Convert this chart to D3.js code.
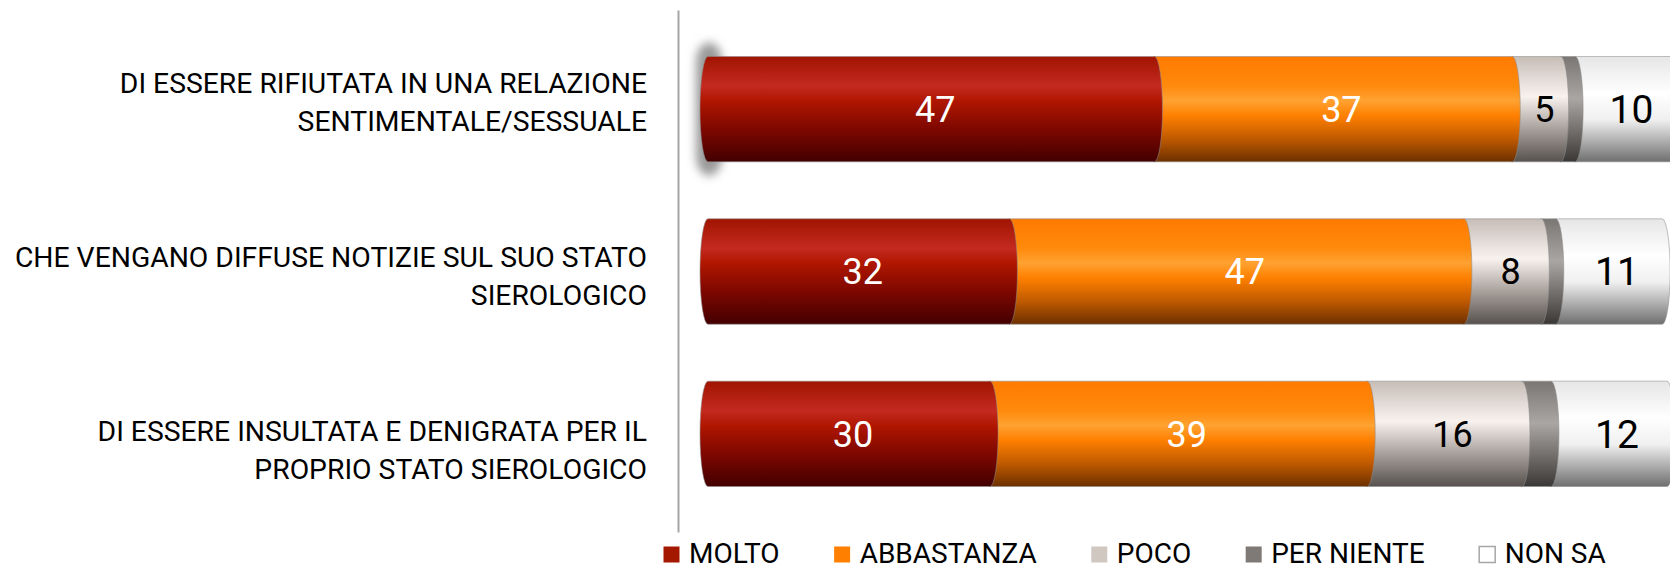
<!DOCTYPE html>
<html>
<head>
<meta charset="utf-8">
<script src="https://cdn.jsdelivr.net/npm/d3@7"></script>
<style>
  body { margin: 0; background: #fff; }
  svg { display: block; font-family: Roboto, "Noto Sans", sans-serif; }
</style>
</head>
<body>
<div id="chart"></div>
<script>
// categories (already split in the two lines shown on the axis)
var categories = [
  ["DI ESSERE RIFIUTATA IN UNA RELAZIONE", "SENTIMENTALE/SESSUALE"],
  ["CHE VENGANO DIFFUSE NOTIZIE SUL SUO STATO", "SIEROLOGICO"],
  ["DI ESSERE INSULTATA E DENIGRATA PER IL", "PROPRIO STATO SIEROLOGICO"]
];
var seriesNames = ["MOLTO", "ABBASTANZA", "POCO", "PER NIENTE", "NON SA"];

var molto      = [47, 32, 30];
var abbastanza = [37, 47, 39];
var poco       = [5, 8, 16];
var perNiente  = [1.5, 1.5, 3];
var nonSa      = [10, 11, 12];

var width  = 1670;
var height = 571;

var rows = categories.map(function(c, i) {
  return {
    idx: i,
    "MOLTO": molto[i],
    "ABBASTANZA": abbastanza[i],
    "POCO": poco[i],
    "PER NIENTE": perNiente[i],
    "NON SA": nonSa[i]
  };
});
var stacked = d3.stack().keys(seriesNames)(rows);

// colour ramps for the cylinder look (top -> bottom)
var ramps = {
  "MOLTO":      [[0, "#a01400"], [0.28, "#c42a20"], [0.42, "#b01600"], [0.7, "#7c0700"], [1, "#420000"]],
  "ABBASTANZA": [[0, "#ff7a00"], [0.28, "#ff8a0c"], [0.42, "#ffa232"], [0.56, "#ff8000"], [0.78, "#c05a00"], [1, "#6c3000"]],
  "POCO":       [[0, "#c7bdb7"], [0.38, "#f8f2ef"], [0.7, "#a59d98"], [1, "#57524f"]],
  "PER NIENTE": [[0, "#7a7674"], [0.4, "#aaa6a4"], [0.75, "#6a6664"], [1, "#3a3836"]],
  "NON SA":     [[0, "#e6e6e6"], [0.35, "#ffffff"], [0.6, "#f0f0f0"], [1, "#6f6f6f"]]
};
var legendColors = {
  "MOLTO": "#a51800", "ABBASTANZA": "#ff8000", "POCO": "#d0c7c1",
  "PER NIENTE": "#807a77", "NON SA": "#ffffff"
};
var labelColors = {
  "MOLTO": "#fff", "ABBASTANZA": "#fff", "POCO": "#000", "PER NIENTE": "#000", "NON SA": "#000"
};

var capRx = 8;
var x = d3.scaleLinear().domain([0, 100]).range([708, 1675]);
// the category axis and the bars (bars are drawn a bit "into" the 3d view)
var yAxisScale = d3.scaleBand().domain(d3.range(categories.length)).range([10, 532]);
var yBar = d3.scaleBand().domain(d3.range(categories.length)).range([28, 515])
             .paddingInner(0.351).paddingOuter(0.1755);

var svg = d3.select('#chart').append('svg')
            .attr('width', width)
            .attr('height', height);
svg.append('rect').attr('width', width).attr('height', height).attr('fill', '#fff');

var defs = svg.append('defs');
seriesNames.forEach(function(name, i) {
  var grad = defs.append('linearGradient')
                 .attr('id', 'grad' + i)
                 .attr('x1', 0).attr('y1', 0).attr('x2', 0).attr('y2', 1);
  ramps[name].forEach(function(s) {
    grad.append('stop').attr('offset', s[0]).attr('stop-color', s[1]);
  });
});
defs.append('filter').attr('id', 'blur')
    .attr('x', '-100%').attr('y', '-50%').attr('width', '300%').attr('height', '200%')
    .append('feGaussianBlur').attr('stdDeviation', 5);

// axis line
var axis = d3.axisLeft(yAxisScale).tickSize(0).tickSizeOuter(0).tickFormat('');
var axisG = svg.append('g').attr('transform', 'translate(678,0)').call(axis);
axisG.select('.domain').attr('stroke', '#a6a6a6').attr('stroke-width', 2);

// category labels
svg.append('g').selectAll('text')
   .data(categories)
   .enter().append('text')
   .attr('text-anchor', 'end')
   .attr('font-size', 28.3)
   .attr('fill', '#000')
   .each(function(lines, i) {
     var c = yAxisScale(i) + yAxisScale.bandwidth() / 2 + 5;
     var t = d3.select(this);
     lines.forEach(function(line, k) {
       t.append('tspan')
        .attr('x', 647)
        .attr('y', c + (k - (lines.length - 1) / 2) * 38 + 10)
        .text(line);
     });
   });

// one slice of the cylinder: right end is a convex ellipse, the left end
// is hidden under the previous slice (only the first one shows its cap)
function segPath(x0, x1, top, h, rx, first) {
  var bot = top + h, ry = h / 2;
  var lc = first ? x0 : x0 - rx;
  var rc = x1 - rx;
  return 'M' + lc + ',' + top +
         ' L' + rc + ',' + top +
         ' A' + rx + ',' + ry + ' 0 0 1 ' + rc + ',' + bot +
         ' L' + lc + ',' + bot +
         ' A' + rx + ',' + ry + ' 0 0 1 ' + lc + ',' + top + ' Z';
}

// glow round the left end of the first bar
svg.append('rect')
   .attr('x', x(0) - 12)
   .attr('y', yBar(0) - 14)
   .attr('width', 26)
   .attr('height', yBar.bandwidth() + 28)
   .attr('rx', 13)
   .attr('ry', 20)
   .attr('fill', '#9a9a9a')
   .attr('filter', 'url(#blur)');

// bars: last series first so the rounded ends overlap the next piece
var bars = svg.append('g');
for (var s = stacked.length - 1; s >= 0; s--) {
  bars.append('g').selectAll('path')
      .data(stacked[s])
      .enter().append('path')
      .attr('d', function(d, i) {
        return segPath(x(d[0]), x(d[1]), yBar(i), yBar.bandwidth(), capRx, s === 0);
      })
      .attr('fill', 'url(#grad' + s + ')')
      .attr('stroke', 'rgba(140,140,140,0.55)')
      .attr('stroke-width', 1);
}

// value labels
stacked.forEach(function(layer, s) {
  var name = seriesNames[s];
  if (name === "PER NIENTE") return;
  var fs = name === "NON SA" ? 39 : 36;
  svg.append('g').selectAll('text')
     .data(layer)
     .enter().append('text')
     .attr('x', function(d) { return (x(d[0]) + x(d[1])) / 2; })
     .attr('y', function(d, i) { return yBar(i) + yBar.bandwidth() / 2 + fs * 0.355; })
     .attr('text-anchor', 'middle')
     .attr('font-size', fs)
     .attr('fill', labelColors[name])
     .text(function(d) { return Math.round(d[1] - d[0]); });
});

// legend
var lx = 663;
var legend = svg.append('g');
seriesNames.forEach(function(name) {
  var g = legend.append('g').attr('transform', 'translate(' + lx + ',0)');
  g.append('rect')
   .attr('x', 0.5).attr('y', 546.5)
   .attr('width', 16).attr('height', 16)
   .attr('fill', legendColors[name])
   .attr('stroke', name === "NON SA" ? '#a6a6a6' : 'none')
   .attr('stroke-width', 1.5);
  var t = g.append('text')
           .attr('x', 26).attr('y', 563)
           .attr('font-size', 28)
           .attr('fill', '#000')
           .text(name);
  lx += 26 + t.node().getComputedTextLength() + 54;
});
</script>
</body>
</html>
